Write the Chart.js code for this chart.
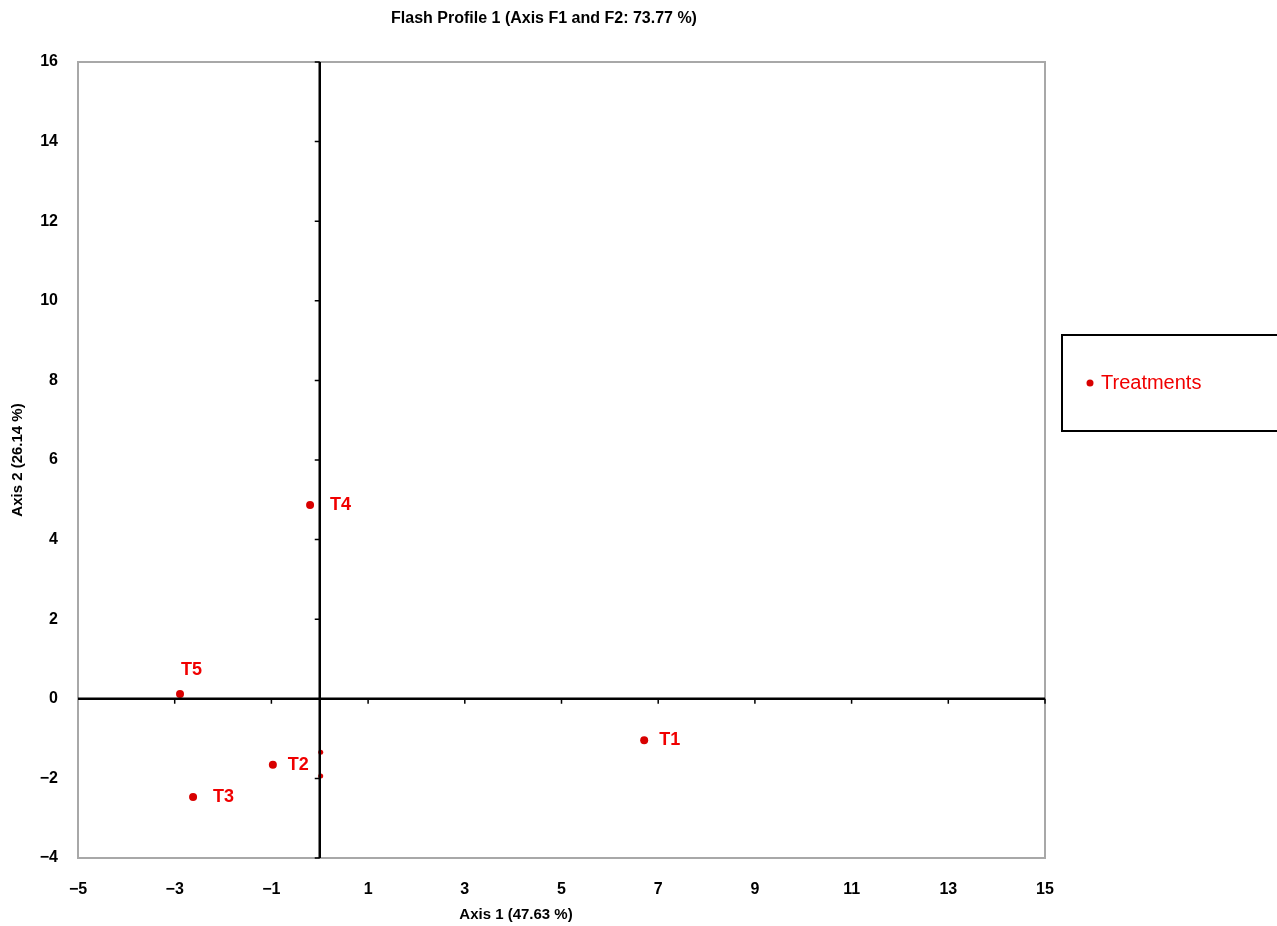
<!DOCTYPE html>
<html><head><meta charset="utf-8">
<script src="https://cdn.jsdelivr.net/npm/chart.js@4"></script>
<style>html,body{margin:0;padding:0;background:#fff}canvas{display:block}</style>
</head><body>
<canvas id="c" width="1277" height="926" style="width:1277px;height:926px"></canvas>
<script>
const names = ['T1','T2','T3','T4','T5'];
const axis1 = [6.71, -0.97, -2.62, -0.20, -2.89];
const axis2 = [-1.04, -1.66, -2.47, 4.87, 0.12];
const hiddenX = [0.02, 0.02];
const hiddenY = [-1.34, -1.94];
const xTicks = [-5,-3,-1,1,3,5,7,9,11,13,15];
const yTicks = [-4,-2,0,2,4,6,8,10,12,14,16];
const chartTitle = 'Flash Profile 1 (Axis F1 and F2: 73.77 %)';
const xTitle = 'Axis 1 (47.63 %)';
const yTitle = 'Axis 2 (26.14 %)';
const legendLabel = 'Treatments';

const RED_PT = '#d80000';
const RED_TX = '#f00000';
const FONT = '"Liberation Sans", Arial, sans-serif';
const fmt = v => String(v).replace('-', '\u2212');

const deco = {
  id: 'deco',
  beforeDraw(chart) {
    const c = chart.ctx;
    c.save(); c.fillStyle = '#fff'; c.fillRect(0, 0, chart.width, chart.height); c.restore();
  },
  beforeDatasetsDraw(chart) {
    const c = chart.ctx, a = chart.chartArea;
    c.save();
    c.strokeStyle = '#a8a8a8'; c.lineWidth = 2;
    c.strokeRect(a.left, a.top, a.right - a.left, a.bottom - a.top);
    c.restore();
  },
  afterDatasetsDraw(chart) {
    const c = chart.ctx, a = chart.chartArea;
    const xs = chart.scales.x, ys = chart.scales.y;
    const x0 = xs.getPixelForValue(0), y0 = ys.getPixelForValue(0);
    c.save();
    c.strokeStyle = '#000'; c.lineWidth = 2.5;
    c.beginPath();
    c.moveTo(x0, a.top); c.lineTo(x0, a.bottom);
    c.moveTo(a.left, y0); c.lineTo(a.right, y0);
    c.stroke();
    c.lineWidth = 1.5;
    c.beginPath();
    xs.ticks.forEach(t => { const px = xs.getPixelForValue(t.value); if (t.value === -5) return; c.moveTo(px, y0); c.lineTo(px, y0 + 5); });
    ys.ticks.forEach(t => { const py = ys.getPixelForValue(t.value); if (t.value === 0) return; c.moveTo(x0, py); c.lineTo(x0 - 5, py); });
    c.stroke();
    c.fillStyle = '#000';
    c.font = 'bold 16px ' + FONT;
    c.textAlign = 'center'; c.textBaseline = 'middle';
    xs.ticks.forEach(t => c.fillText(fmt(t.value), xs.getPixelForValue(t.value), 890));
    c.textAlign = 'right';
    ys.ticks.forEach(t => c.fillText(fmt(t.value), 58, ys.getPixelForValue(t.value)));
    const meta = chart.getDatasetMeta(0);
    c.fillStyle = RED_TX;
    c.font = 'bold 18px ' + FONT;
    c.textAlign = 'left'; c.textBaseline = 'middle';
    meta.data.forEach((el, i) => {
      const n = names[i];
      if (n === 'T5') c.fillText(n, el.x + 1, el.y - 24);
      else c.fillText(n, el.x + (n === 'T1' || n === 'T2' ? 15 : 20), el.y);
    });
    c.fillStyle = '#000';
    c.font = 'bold 16px ' + FONT;
    c.textAlign = 'center'; c.textBaseline = 'middle';
    c.fillText(chartTitle, 544, 19);
    c.font = 'bold 15px ' + FONT;
    c.fillText(xTitle, 516, 915);
    c.save(); c.translate(18, 460); c.rotate(-Math.PI / 2); c.fillText(yTitle, 0, 0); c.restore();
    c.strokeStyle = '#000'; c.lineWidth = 2;
    c.strokeRect(1062, 335, 240, 96);
    c.fillStyle = RED_PT;
    c.beginPath(); c.arc(1090, 383, 3.5, 0, Math.PI * 2); c.fill();
    c.fillStyle = RED_TX;
    c.font = '20px ' + FONT;
    c.textAlign = 'left';
    c.fillText(legendLabel, 1101, 383);
    c.restore();
  }
};

new Chart(document.getElementById('c'), {
  type: 'scatter',
  data: {
    datasets: [
      { label: legendLabel, data: axis1.map((x, i) => ({ x, y: axis2[i] })),
        backgroundColor: RED_PT, borderColor: RED_PT, pointRadius: 4, pointHoverRadius: 4, borderWidth: 0 },
      { label: 'hidden', data: hiddenX.map((x, i) => ({ x, y: hiddenY[i] })),
        backgroundColor: RED_PT, borderColor: RED_PT, pointRadius: 2.5, borderWidth: 0 }
    ]
  },
  options: {
    responsive: false, animation: false,
    layout: { padding: { left: 78, right: 232, top: 62, bottom: 68 } },
    plugins: { legend: { display: false }, tooltip: { enabled: false }, title: { display: false } },
    scales: {
      x: { type: 'linear', min: -5, max: 15, display: false,
           afterBuildTicks: s => { s.ticks = xTicks.map(v => ({ value: v })); } },
      y: { type: 'linear', min: -4, max: 16, display: false,
           afterBuildTicks: s => { s.ticks = yTicks.map(v => ({ value: v })); } }
    }
  },
  plugins: [deco]
});
</script>
</body></html>
